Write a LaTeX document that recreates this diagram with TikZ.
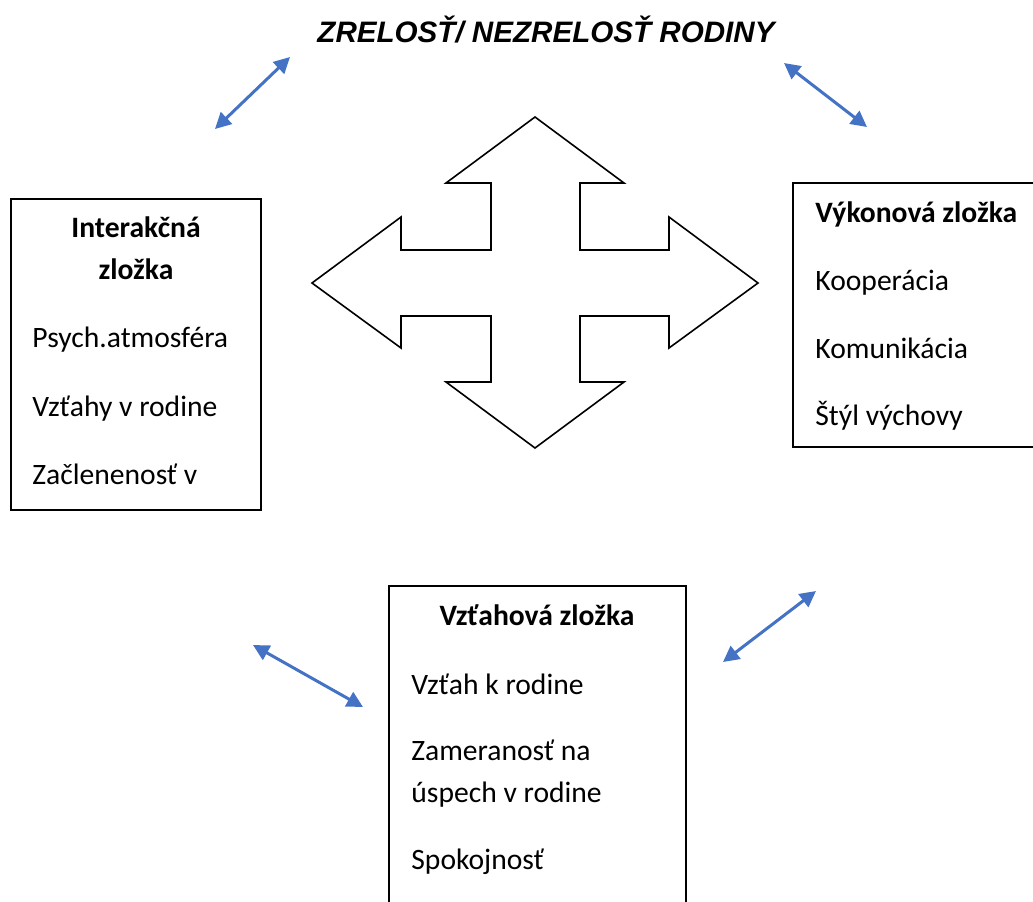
\documentclass[tikz,border=0pt]{standalone}
\usepackage{fontspec}
\setmainfont{Carlito}
\newfontfamily\titlefont{Liberation Sans}
\usepackage{tikz}
\usetikzlibrary{arrows.meta,positioning}
\definecolor{linkblue}{HTML}{4472C4}

\begin{document}
\begin{tikzpicture}[x=0.5pt, y=-0.5pt,
    box/.style={draw, line width=1pt, inner sep=0pt},
    txt/.style={inner sep=0pt, anchor=base west, font=\fontsize{14.8}{17.8}\selectfont},
    head/.style={inner sep=0pt, anchor=base, font=\fontsize{14.8}{17.8}\selectfont\bfseries},
    link/.style={linkblue, line width=1.5pt, {Triangle[length=8pt,width=8pt]}-{Triangle[length=8pt,width=8pt]}}]
    \clip (0,0) rectangle (1033,901);

    \node[inner sep=0pt, anchor=base, font=\titlefont\fontsize{14.8}{18}\selectfont\bfseries\itshape] (title) at (546,42) {ZRELOSŤ/ NEZRELOSŤ RODINY};

    % central cross
    \draw[line width=0.8pt, line join=miter] (535,117) -- (624,183) -- (580,183) -- (580,250) -- (669,250) -- (669,217)
        -- (758,283) -- (669,348) -- (669,316) -- (580,316) -- (580,382) -- (624,382) -- (535,448)
        -- (446,382) -- (491,382) -- (491,316) -- (401,316) -- (401,348) -- (312,283) -- (401,217)
        -- (401,250) -- (491,250) -- (491,183) -- (446,183) -- cycle;

    % boxes
    \node[box, minimum width=125pt, minimum height=155.5pt] (inter) at (136,354.5) {};
    \node[box, minimum width=133.5pt, minimum height=132pt] (vykon) at (926.5,315) {};
    \node[box, minimum width=148.5pt, minimum height=167pt] (vztah) at (537.5,753) {};

    \node[head] (interA) at (136,237) {Interakčná};
    \node[head] (interB) at (136,279) {zložka};
    \node[txt] (inter1) at (32,347) {Psych.atmosféra};
    \node[txt] (inter2) at (32,416) {Vzťahy v rodine};
    \node[txt] (inter3) at (32,484) {Začlenenosť v};

    \node[head, anchor=base west] (vykonA) at (815,222) {Výkonová zložka};
    \node[txt] (vykon1) at (815,290) {Kooperácia};
    \node[txt] (vykon2) at (815,358) {Komunikácia};
    \node[txt] (vykon3) at (815,425) {Štýl výchovy};

    \node[head] (vztahA) at (537,625) {Vzťahová zložka};
    \node[txt] (vztah1) at (411,694) {Vzťah k rodine};
    \node[txt] (vztah2) at (411,760) {Zameranosť na};
    \node[txt] (vztah3) at (411,802) {úspech v rodine};
    \node[txt] (vztah4) at (411,869) {Spokojnosť};

    % links to the title
    \coordinate (l1a) at (215,129); \coordinate (l1b) at (290,57);
    \coordinate (l2a) at (784,63);  \coordinate (l2b) at (867,127);
    \coordinate (l3a) at (253,645); \coordinate (l3b) at (363,707);
    \coordinate (l4a) at (723,662); \coordinate (l4b) at (816,591);
    \draw[link] (l1a) -- (l1b);
    \draw[link] (l2a) -- (l2b);
    \draw[link] (l3a) -- (l3b);
    \draw[link] (l4a) -- (l4b);
\end{tikzpicture}
\end{document}
